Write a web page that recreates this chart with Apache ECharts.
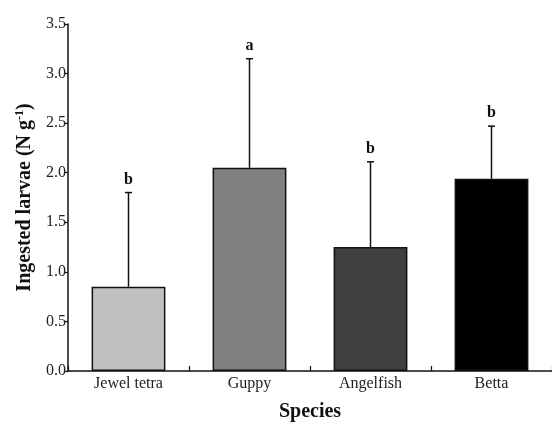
<!DOCTYPE html>
<html><head><meta charset="utf-8">
<script src="https://cdn.jsdelivr.net/npm/echarts@6/dist/echarts.min.js"></script>
<style>html,body{margin:0;padding:0;background:#fff}#c{width:552px;height:427px}</style>
</head><body><div id="c"></div>
<script>
var categories = ['Jewel tetra', 'Guppy', 'Angelfish', 'Betta'];
var means = [0.85, 2.05, 1.25, 1.94];
var errTops = [1.80, 3.15, 2.11, 2.47];
var letters = ['b', 'a', 'b', 'b'];
var barColors = ['#c0c0c0', '#808080', '#404040', '#000000'];
var yTicks = [0, 0.5, 1.0, 1.5, 2.0, 2.5, 3.0, 3.5];

var FONT = '"Liberation Serif", "DejaVu Serif", serif';
var chart = echarts.init(document.getElementById('c'));
chart.setOption({
  animation: false,
  grid: {left: 68, top: 24, bottom: 51, right: -9, containLabel: false},
  xAxis: {
    type: 'category', data: categories,
    name: 'Species', nameLocation: 'middle', nameGap: 31,
    nameTextStyle: {fontFamily: FONT, fontWeight: 'bold', fontSize: 20, color: '#111'},
    axisLine: {lineStyle: {color: '#111', width: 1.5}},
    axisTick: {show: true, inside: true, length: 5, lineStyle: {color: '#111', width: 1.2}},
    axisLabel: {fontFamily: FONT, fontSize: 16, color: '#222', margin: 5}
  },
  yAxis: {
    type: 'value', min: 0, max: 3.5, interval: 0.5,
    name: '{n|Ingested larvae (N g}{s|-1}{n|)}', nameLocation: 'middle', nameGap: 32,
    nameTextStyle: {rich: {
      n: {fontFamily: FONT, fontWeight: 'bold', fontSize: 20, color: '#111'},
      s: {fontFamily: FONT, fontWeight: 'bold', fontSize: 12, color: '#111', verticalAlign: 'top', padding: [0,0,10,0]}
    }},
    axisLine: {show: true, lineStyle: {color: '#111', width: 1.5}},
    axisTick: {show: true, length: 4, lineStyle: {color: '#111', width: 1.2}},
    splitLine: {show: false},
    axisLabel: {fontFamily: FONT, fontSize: 16, color: '#222', margin: 2,
      formatter: function (v) { return v.toFixed(1); }}
  },
  series: [
    {
      type: 'bar', barWidth: '61%',
      data: means.map(function (v, i) {
        return {value: v, itemStyle: {color: barColors[i], borderColor: '#111', borderWidth: 1.5}};
      }),
      z: 2
    },
    {
      type: 'custom', z: 3,
      data: means.map(function (v, i) { return [i, v, errTops[i]]; }),
      renderItem: function (params, api) {
        var i = api.value(0);
        var b = api.coord([i, api.value(1)]);
        var t = api.coord([i, api.value(2)]);
        var st = {stroke: '#111', lineWidth: 1.5};
        return {type: 'group', children: [
          {type: 'line', shape: {x1: b[0], y1: b[1], x2: t[0], y2: t[1]}, style: st},
          {type: 'line', shape: {x1: t[0] - 3.5, y1: t[1], x2: t[0] + 3.5, y2: t[1]}, style: st},
          {type: 'text', x: t[0], y: t[1] - 5, style: {
            text: letters[params.dataIndex], fontFamily: FONT, fontWeight: 'bold', fontSize: 16,
            fill: '#111', align: 'center', verticalAlign: 'bottom'}}
        ]};
      }
    }
  ]
});
</script></body></html>
